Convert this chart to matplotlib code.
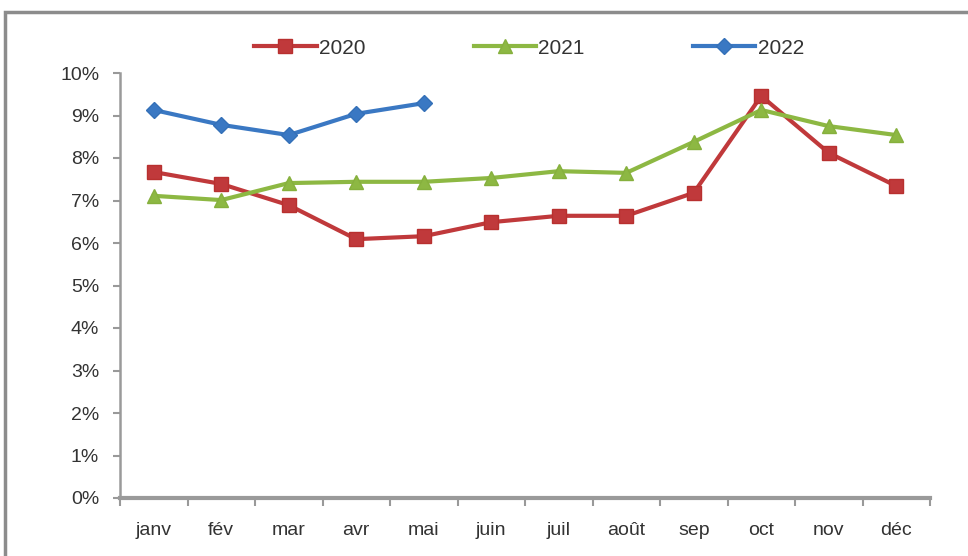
import matplotlib
matplotlib.use("Agg")
import matplotlib.pyplot as plt
from matplotlib.patches import Rectangle
from matplotlib.ticker import FixedLocator, NullFormatter

months = ["janv", "fév", "mar", "avr", "mai", "juin", "juil", "août", "sep", "oct", "nov", "déc"]
y2020 = [7.67, 7.39, 6.89, 6.09, 6.16, 6.49, 6.64, 6.64, 7.18, 9.46, 8.12, 7.34]
y2021 = [7.11, 7.01, 7.41, 7.44, 7.44, 7.53, 7.69, 7.65, 8.38, 9.13, 8.75, 8.54]
y2022 = [9.13, 8.78, 8.54, 9.04, 9.29]
yticks = list(range(0, 11))
ytick_labels = [f"{v}%" for v in yticks]

plt.rcParams['font.family'] = ['Liberation Sans', 'DejaVu Sans']

fig = plt.figure(figsize=(9.68, 5.56), dpi=100)
fig.patch.set_facecolor("white")
# outer chart border
fig.add_artist(Rectangle((5/968, -0.05), 1.0, 1 - 12/556 + 0.05, transform=fig.transFigure,
                         fill=False, edgecolor="#8c8c8c", linewidth=2.5))

ax = fig.add_axes([120/968, 1 - 498/556, (930 - 120)/968, (498 - 73)/556])
x = list(range(len(months)))
ax.plot(x, y2020, color="#C0393B", marker="s", markersize=10, linewidth=3, label="2020",
        markeredgecolor="#B8302F")
ax.plot(x, y2021, color="#8DB843", marker="^", markersize=10, linewidth=3, label="2021",
        markeredgecolor="#86B03D")
ax.plot(x[:len(y2022)], y2022, color="#3A78C3", marker="D", markersize=8, linewidth=3, label="2022",
        markeredgecolor="#3470B8")

ax.set_xlim(-0.5, len(months) - 0.5)
ax.set_ylim(0, 10)
ax.set_yticks(yticks)
ax.set_yticklabels(ytick_labels, fontsize=14, color="#333333")
ax.set_xticks(x)
ax.set_xticklabels(months, fontsize=14, color="#333333")
ax.tick_params(axis="x", length=0, pad=17)
ax.xaxis.set_minor_locator(FixedLocator([i - 0.5 for i in range(len(months) + 1)]))
ax.xaxis.set_minor_formatter(NullFormatter())
ax.tick_params(axis="x", which="minor", length=6, width=1.5, color="#999999", direction="out")
ax.tick_params(axis="y", length=5, width=1.5, color="#999999", direction="out", pad=10)
for s in ["top", "right"]:
    ax.spines[s].set_visible(False)
ax.spines["left"].set_color("#9a9a9a")
ax.spines["left"].set_linewidth(1.8)
ax.spines["bottom"].set_color("#9a9a9a")
ax.spines["bottom"].set_linewidth(3)

fig.legend(loc="center", bbox_to_anchor=(529/968, 1 - 48/556), ncol=3, frameon=False,
           fontsize=15, handlelength=3.0, columnspacing=5.2, handletextpad=0.1,
           labelcolor="#333333")

fig.savefig("out.png", dpi=100)
